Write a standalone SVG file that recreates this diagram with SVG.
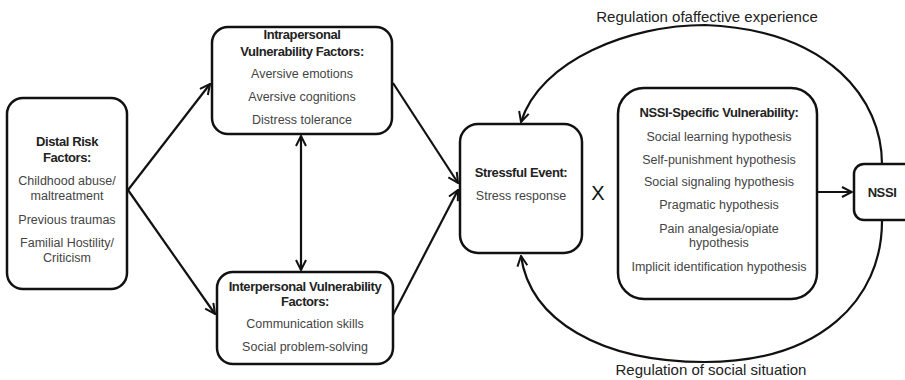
<svg xmlns="http://www.w3.org/2000/svg" width="905" height="380" viewBox="0 0 905 380">
<defs>
<marker id="arr" viewBox="0 0 12 12" refX="11" refY="6" markerWidth="12" markerHeight="12" markerUnits="userSpaceOnUse" orient="auto-start-reverse">
<path d="M1,1 L11,6 L1,11" fill="none" stroke="#111" stroke-width="2"/>
</marker>
<style>
.box{fill:#fff;stroke:#111;stroke-width:2.5}
.h{font-family:"Liberation Sans",Arial,sans-serif;font-size:13px;font-weight:bold;fill:#222;text-anchor:middle;letter-spacing:-0.4px}
.t{font-family:"Liberation Sans",Arial,sans-serif;font-size:12.5px;fill:#444;text-anchor:middle}
.lbl{font-family:"Liberation Sans",Arial,sans-serif;font-size:15px;fill:#222;text-anchor:middle}
.c{fill:none;stroke:#111;stroke-width:2.2}
</style>
</defs>
<rect width="905" height="380" fill="#fff"/>
<g id="connectors">
<line class="c" x1="128" y1="190" x2="210" y2="84" marker-end="url(#arr)"/>
<line class="c" x1="128" y1="190" x2="215" y2="314" marker-end="url(#arr)"/>
<line class="c" x1="301" y1="136" x2="301" y2="270" marker-start="url(#arr)" marker-end="url(#arr)"/>
<line class="c" x1="393" y1="83" x2="458" y2="183" marker-end="url(#arr)"/>
<line class="c" x1="393" y1="315" x2="458" y2="190" marker-end="url(#arr)"/>
<line class="c" x1="817" y1="192" x2="852" y2="192" marker-end="url(#arr)"/>
<path class="c" d="M882,164 C882,100 830,30 705,25 C630,25 540,60 521,122" marker-end="url(#arr)"/>
<path class="c" d="M882,221 C882,300 820,362 705,362 C600,362 530,320 521,256" marker-end="url(#arr)"/>
</g>
<g id="distal">
<rect class="box" x="7" y="98" width="120" height="191" rx="16"/>
<text class="h" x="67" y="146">Distal Risk</text>
<text class="h" x="67" y="162">Factors:</text>
<text class="t" x="67" y="185">Childhood abuse/</text>
<text class="t" x="67" y="200">maltreatment</text>
<text class="t" x="67" y="224">Previous traumas</text>
<text class="t" x="67" y="247">Familial Hostility/</text>
<text class="t" x="67" y="262">Criticism</text>
</g>
<g id="intrapersonal">
<rect class="box" x="212" y="27" width="180" height="107" rx="16"/>
<text class="h" x="302" y="39">Intrapersonal</text>
<text class="h" x="302" y="56">Vulnerability Factors:</text>
<text class="t" x="302" y="78">Aversive emotions</text>
<text class="t" x="302" y="101">Aversive cognitions</text>
<text class="t" x="302" y="124">Distress tolerance</text>
</g>
<g id="interpersonal">
<rect class="box" x="217" y="272" width="176" height="92" rx="16"/>
<text class="h" x="305" y="291">Interpersonal Vulnerability</text>
<text class="h" x="305" y="306">Factors:</text>
<text class="t" x="305" y="328">Communication skills</text>
<text class="t" x="305" y="351">Social problem-solving</text>
</g>
<g id="stressful">
<rect class="box" x="460" y="124" width="122" height="129" rx="18"/>
<text class="h" x="521" y="177">Stressful Event:</text>
<text class="t" x="521" y="200">Stress response</text>
</g>
<g id="x">
<text x="598" y="200" font-family="Liberation Sans,Arial,sans-serif" font-size="20" fill="#111" text-anchor="middle">X</text>
</g>
<g id="nssi-specific">
<rect class="box" x="618" y="88" width="199" height="211" rx="26"/>
<text class="h" x="719" y="117">NSSI-Specific Vulnerability:</text>
<text class="t" x="719" y="141">Social learning hypothesis</text>
<text class="t" x="719" y="164">Self-punishment hypothesis</text>
<text class="t" x="719" y="186">Social signaling hypothesis</text>
<text class="t" x="719" y="209">Pragmatic hypothesis</text>
<text class="t" x="719" y="233">Pain analgesia/opiate</text>
<text class="t" x="719" y="247">hypothesis</text>
<text class="t" x="719" y="271">Implicit identification hypothesis</text>
</g>
<g id="nssi">
<rect class="box" x="854" y="164" width="60" height="56" rx="10"/>
<text class="h" x="882" y="197">NSSI</text>
</g>
<g id="labels">
<text class="lbl" x="707" y="22">Regulation ofaffective experience</text>
<text class="lbl" x="711" y="375">Regulation of social situation</text>
</g>
</svg>
